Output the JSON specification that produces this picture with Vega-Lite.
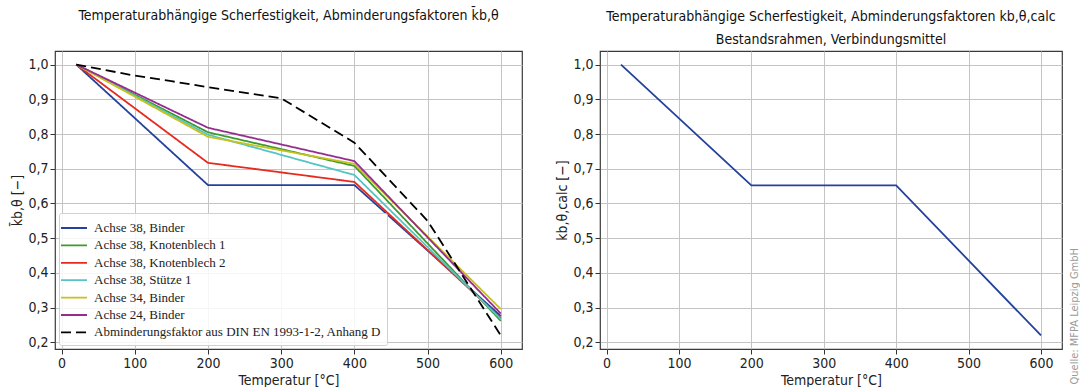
{
  "$schema": "https://vega.github.io/schema/vega-lite/v6.json",
  "background": "white",
  "padding": {"left": 10, "top": 8, "right": 0, "bottom": 0},
  "spacing": 78,
  "bounds": "flush",
  "datasets": {
    "left": [
      {"series": "Achse 38, Binder", "t": 20, "k": 1.0},
      {"series": "Achse 38, Binder", "t": 200, "k": 0.653},
      {"series": "Achse 38, Binder", "t": 400, "k": 0.653},
      {"series": "Achse 38, Binder", "t": 600, "k": 0.276},
      {"series": "Achse 38, Knotenblech 1", "t": 20, "k": 1.0},
      {"series": "Achse 38, Knotenblech 1", "t": 200, "k": 0.805},
      {"series": "Achse 38, Knotenblech 1", "t": 400, "k": 0.708},
      {"series": "Achse 38, Knotenblech 1", "t": 600, "k": 0.262},
      {"series": "Achse 38, Knotenblech 2", "t": 20, "k": 1.0},
      {"series": "Achse 38, Knotenblech 2", "t": 200, "k": 0.717},
      {"series": "Achse 38, Knotenblech 2", "t": 400, "k": 0.662},
      {"series": "Achse 38, Knotenblech 2", "t": 600, "k": 0.27},
      {"series": "Achse 38, Stütze 1", "t": 20, "k": 1.0},
      {"series": "Achse 38, Stütze 1", "t": 200, "k": 0.798},
      {"series": "Achse 38, Stütze 1", "t": 400, "k": 0.682},
      {"series": "Achse 38, Stütze 1", "t": 600, "k": 0.267},
      {"series": "Achse 34, Binder", "t": 20, "k": 1.0},
      {"series": "Achse 34, Binder", "t": 200, "k": 0.792},
      {"series": "Achse 34, Binder", "t": 400, "k": 0.714},
      {"series": "Achse 34, Binder", "t": 600, "k": 0.296},
      {"series": "Achse 24, Binder", "t": 20, "k": 1.0},
      {"series": "Achse 24, Binder", "t": 200, "k": 0.818},
      {"series": "Achse 24, Binder", "t": 400, "k": 0.722},
      {"series": "Achse 24, Binder", "t": 600, "k": 0.283},
      {"series": "Abminderungsfaktor aus DIN EN 1993-1-2, Anhang D", "t": 20, "k": 1.0},
      {"series": "Abminderungsfaktor aus DIN EN 1993-1-2, Anhang D", "t": 100, "k": 0.968},
      {"series": "Abminderungsfaktor aus DIN EN 1993-1-2, Anhang D", "t": 150, "k": 0.952},
      {"series": "Abminderungsfaktor aus DIN EN 1993-1-2, Anhang D", "t": 200, "k": 0.935},
      {"series": "Abminderungsfaktor aus DIN EN 1993-1-2, Anhang D", "t": 300, "k": 0.903},
      {"series": "Abminderungsfaktor aus DIN EN 1993-1-2, Anhang D", "t": 400, "k": 0.775},
      {"series": "Abminderungsfaktor aus DIN EN 1993-1-2, Anhang D", "t": 500, "k": 0.55},
      {"series": "Abminderungsfaktor aus DIN EN 1993-1-2, Anhang D", "t": 600, "k": 0.22}
    ],
    "right": [
      {"t": 20, "k": 1.0},
      {"t": 200, "k": 0.652},
      {"t": 400, "k": 0.652},
      {"t": 600, "k": 0.22}
    ]
  },
  "config": {
    "font": "DejaVu Sans Condensed",
    "view": {"stroke": "#3a3a3a", "strokeWidth": 1.2},
    "axis": {
      "domain": false,
      "grid": true,
      "gridColor": "#c4c4c4",
      "gridWidth": 1,
      "tickColor": "#333333",
      "tickSize": 5,
      "tickWidth": 1,
      "labelFont": "DejaVu Sans Condensed",
      "labelFontSize": 14,
      "labelColor": "#222222",
      "titleFont": "DejaVu Sans Condensed",
      "titleFontSize": 14,
      "titleFontWeight": "normal",
      "titleColor": "#222222"
    },
    "title": {"font": "DejaVu Sans Condensed", "fontSize": 14, "fontWeight": "normal", "color": "#111111", "anchor": "middle"}
  },
  "hconcat": [
    {
      "width": 467,
      "height": 298,
      "title": {"text": "Temperaturabhängige Scherfestigkeit, Abminderungsfaktoren k̄b,θ", "offset": 28},
      "data": {"name": "left"},
      "mark": {"type": "line", "clip": true},
      "encoding": {
        "x": {"field": "t", "type": "quantitative", "scale": {"domain": [-9, 629], "nice": false, "zero": false},
              "axis": {"values": [0, 100, 200, 300, 400, 500, 600], "title": "Temperatur [°C]", "labelPadding": 2, "titlePadding": 3}},
        "y": {"field": "k", "type": "quantitative", "scale": {"domain": [0.181, 1.039], "nice": false, "zero": false},
              "axis": {"values": [0.2, 0.3, 0.4, 0.5, 0.6, 0.7, 0.8, 0.9, 1.0], "labelExpr": "replace(format(datum.value, '.1f'), '.', ',')", "title": "k̄b,θ [−]", "titlePadding": 3}},
        "color": {"field": "series", "type": "nominal",
          "scale": {"domain": ["Achse 38, Binder", "Achse 38, Knotenblech 1", "Achse 38, Knotenblech 2", "Achse 38, Stütze 1", "Achse 34, Binder", "Achse 24, Binder", "Abminderungsfaktor aus DIN EN 1993-1-2, Anhang D"],
                    "range": ["#24429c", "#3c9a30", "#e62a1e", "#55c4c4", "#c8c01c", "#952c90", "#000000"]},
          "legend": {"title": null, "orient": "bottom-left", "offset": 4, "fillColor": "rgba(255,255,255,0.85)", "strokeColor": "#d0d0d0", "padding": 5, "cornerRadius": 2,
                     "labelFont": "Liberation Serif", "labelFontSize": 13, "labelColor": "#222222", "labelLimit": 0,
                     "symbolType": "M-1.5,0H1.5", "symbolSize": 300, "symbolStrokeWidth": 2, "rowPadding": 0.4, "labelOffset": 10}},
        "strokeDash": {"field": "series", "type": "nominal",
          "scale": {"domain": ["Achse 38, Binder", "Achse 38, Knotenblech 1", "Achse 38, Knotenblech 2", "Achse 38, Stütze 1", "Achse 34, Binder", "Achse 24, Binder", "Abminderungsfaktor aus DIN EN 1993-1-2, Anhang D"],
                    "range": [[1, 0], [1, 0], [1, 0], [1, 0], [1, 0], [1, 0], [10, 5]]},
          "legend": {"title": null}},
        "strokeWidth": {"field": "series", "type": "nominal",
          "scale": {"domain": ["Achse 38, Binder", "Achse 38, Knotenblech 1", "Achse 38, Knotenblech 2", "Achse 38, Stütze 1", "Achse 34, Binder", "Achse 24, Binder", "Abminderungsfaktor aus DIN EN 1993-1-2, Anhang D"],
                    "range": [1.8, 1.8, 1.8, 1.8, 1.8, 1.8, 3.8]},
          "legend": {"title": null}}
      }
    },
    {
      "width": 462,
      "height": 298,
      "title": {"text": ["Temperaturabhängige Scherfestigkeit, Abminderungsfaktoren kb,θ,calc", "Bestandsrahmen, Verbindungsmittel"], "offset": 4, "lineHeight": 23},
      "data": {"name": "right"},
      "resolve": {"axis": {"y": "independent"}},
      "layer": [
        {
          "mark": {"type": "line", "color": "#24429c", "strokeWidth": 1.8},
          "encoding": {
            "x": {"field": "t", "type": "quantitative", "scale": {"domain": [-9, 629], "nice": false, "zero": false},
                  "axis": {"values": [0, 100, 200, 300, 400, 500, 600], "title": "Temperatur [°C]", "labelPadding": 2, "titlePadding": 3}},
            "y": {"field": "k", "type": "quantitative", "scale": {"domain": [0.181, 1.039], "nice": false, "zero": false},
                  "axis": {"values": [0.2, 0.3, 0.4, 0.5, 0.6, 0.7, 0.8, 0.9, 1.0], "labelExpr": "replace(format(datum.value, '.1f'), '.', ',')", "title": "kb,θ,calc [−]", "titlePadding": 3}}
          }
        },
        {
          "mark": {"type": "line", "opacity": 0},
          "encoding": {
            "x": {"field": "t", "type": "quantitative"},
            "y": {"field": "k", "type": "quantitative",
                  "axis": {"orient": "right", "grid": false, "labels": false, "ticks": false, "domain": false,
                           "title": "Quelle: MFPA Leipzig GmbH", "titleColor": "#9a9a9a", "titleFontSize": 11,
                           "titleAngle": 270, "titleAlign": "left", "titleBaseline": "middle", "titleX": 12, "titleY": 333}}
          }
        }
      ]
    }
  ]
}
